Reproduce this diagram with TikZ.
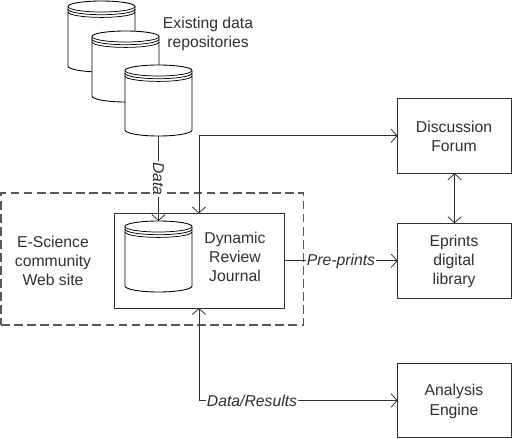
\documentclass[tikz,border=0pt]{standalone}
\usepackage{fontspec}
\setmainfont{Liberation Sans}
\usetikzlibrary{arrows.meta}
\definecolor{ink}{HTML}{303030}
\tikzset{
  every node/.style={font=\fontsize{11.8}{14.5}\selectfont,text=ink,align=center,inner sep=0pt,outer sep=0pt},
  wire/.style={draw=ink,line width=0.75pt},
  tip/.style={wire,arrows={-{Straight Barb[length=4.5pt,width=10pt,line width=0.6pt]}}},
  twotip/.style={wire,arrows={{Straight Barb[length=4.5pt,width=10pt,line width=0.6pt]}-{Straight Barb[length=4.5pt,width=10pt,line width=0.6pt]}}},
  boxnode/.style={draw=ink,line width=0.75pt,fill=white,minimum width=85.4pt,minimum height=56.2pt},
  lbl/.style={fill=white,inner xsep=1pt,inner ysep=1pt,font=\fontsize{11.8}{14.5}\selectfont\itshape},
  cylbody/.style={draw=black,line width=0.65pt,fill=white},
  cyledge/.style={draw=black,line width=0.55pt},
  cylslot/.style={minimum width=50.25pt,minimum height=53.25pt},
}
\newcommand{\cylpic}[3]{%
  \path[cylbody] (#2-33.5,#3+5.5) arc[start angle=180,end angle=0,x radius=25.125pt,y radius=4.125pt]
    -- (#2+33.5,#3+65) arc[start angle=0,end angle=-180,x radius=25.125pt,y radius=4.5pt] -- cycle;
  \path[cyledge] (#2-33.5,#3+5.5) arc[start angle=180,end angle=360,x radius=25.125pt,y radius=4.125pt];
  \path[cyledge] (#2-33.5,#3+8.2) arc[start angle=180,end angle=360,x radius=25.125pt,y radius=4.125pt];
  \path[cyledge] (#2-33.5,#3+10.9) arc[start angle=180,end angle=360,x radius=25.125pt,y radius=4.125pt];
  \node[cylslot] (#1) at (#2,#3+35.5) {};
}
\begin{document}
\begin{tikzpicture}[x=0.75pt,y=-0.75pt]
\useasboundingbox (0,0) rectangle (512,439);
% dashed community site
\node[draw=ink!80,line width=0.8pt,dash pattern=on 6.6pt off 3.2pt,minimum width=226.9pt,minimum height=99pt] (site) at (152.25,259) {};
% cylinders
\cylpic{cylA}{101.5}{1}
\cylpic{cylB}{125.5}{31}
\cylpic{cylC}{158.5}{65}
% boxes
\node[draw=ink,line width=0.75pt,minimum width=127.5pt,minimum height=70.9pt] (journal) at (199.5,260.75) {};
\cylpic{cylD}{158.5}{221}
\node[boxnode] (forum) at (454.6,135.75) {};
\node[boxnode] (eprints) at (454.6,260.75) {};
\node[boxnode] (analysis) at (454.6,400.5) {};
% corner points
\coordinate (topbend) at (199,135.75);
\coordinate (lowbend) at (199,400.5);
% connectors
\draw[tip] (cylC.south) -- (cylD.north);
\draw[twotip] (journal.north -| topbend) -- (topbend) -- (forum.west);
\draw[tip] (journal.east) -- (eprints.west);
\draw[twotip] (forum.south) -- (eprints.north);
\draw[twotip] (journal.south -| lowbend) -- (lowbend) -- (analysis.west);
% connector labels
\node[lbl,rotate=-90] (datalbl) at (158.5,179) {Data};
\node[lbl] (prelbl) at (341,261) {Pre-prints};
\node[lbl] (reslbl) at (252,400.5) {Data/Results};
% texts
\node (repo) at (208,34) {Existing data\\repositories};
\node (sitetxt) at (53,261) {E-Science\\community\\Web site};
\node (jtxt) at (235,257) {Dynamic\\Review\\Journal};
\node (ftxt) at (454,136.5) {Discussion\\Forum};
\node (etxt) at (454,261.5) {Eprints\\digital\\library};
\node (atxt) at (454,401.5) {Analysis\\Engine};
\end{tikzpicture}
\end{document}
